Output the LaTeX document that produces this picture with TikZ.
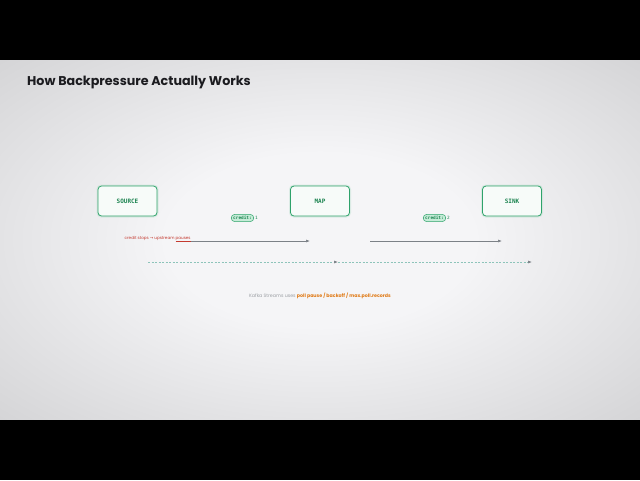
\documentclass[tikz,border=0pt]{standalone}
\usepackage{fontspec}
\setmainfont{Poppins}
\setmonofont{DejaVu Sans Mono}
\newfontfamily\arrowfont{DejaVu Sans}
\usetikzlibrary{positioning,arrows.meta}
\definecolor{bgin}{HTML}{F5F5F7}
\definecolor{bgout}{HTML}{BEBEC0}
\definecolor{mint}{HTML}{2FA36B}
\definecolor{mintdark}{HTML}{1E8552}
\definecolor{mintfill}{HTML}{C6ECD8}
\definecolor{stopred}{HTML}{C43A30}
\definecolor{pollorange}{HTML}{E07A16}
\definecolor{flowgray}{HTML}{7C8187}
\definecolor{dashteal}{HTML}{8DC4BA}
\definecolor{titleink}{HTML}{1B1B1F}
\pgfdeclareradialshading{bgglow}{\pgfpoint{0bp}{0bp}}{color(0bp)=(bgin); color(12bp)=(bgin); color(52bp)=(bgout); color(72bp)=(bgout)}

\begin{document}
\begin{tikzpicture}[x=1pt,y=-1pt,
  stage/.style={draw=mint,line width=0.8pt,fill=white!96!mint,rounded corners=3.5pt,minimum width=59pt,minimum height=30pt,inner sep=0pt,
    preaction={draw=mint!45,line width=3pt,opacity=0.3},font=\ttfamily\bfseries\fontsize{6}{7}\selectfont,text=mintdark},
  creditpill/.style={draw=mint,line width=0.5pt,fill=mintfill,rounded corners=3.5pt,inner xsep=2pt,inner ysep=1.8pt,
    font=\ttfamily\bfseries\fontsize{4.4}{5}\selectfont,text=mintdark},
  flow/.style={draw=flowgray,line width=0.6pt,-{Latex[length=4pt,width=3pt]}},
  ackflow/.style={draw=dashteal,line width=0.6pt,dash pattern=on 2pt off 1.5pt,-{Latex[length=4pt,width=3pt,color=flowgray]}}]
\useasboundingbox (0,0) rectangle (640,480);
\shade[shading=bgglow] (0,60) rectangle (640,420);
\fill[black] (0,0) rectangle (640,60);
\fill[black] (0,420) rectangle (640,480);
\node[anchor=west,inner sep=0pt,font=\bfseries\fontsize{12.7}{14}\selectfont,text=titleink] (title) at (27,82.5) {How Backpressure Actually Works};
\node[stage] (source) at (127.5,201) {SOURCE};
\node[stage] (map) at (320,201) {MAP};
\node[stage] (sink) at (512,201) {SINK};
\node[creditpill] (credit1) at (242.5,218) {credit:};
\node[right=0.8pt of credit1,inner sep=0pt,font=\ttfamily\fontsize{4.4}{5}\selectfont,text=mintdark] (credit1val) {1};
\node[creditpill] (credit2) at (434.5,218) {credit:};
\node[right=0.8pt of credit2,inner sep=0pt,font=\ttfamily\fontsize{4.4}{5}\selectfont,text=mintdark] (credit2val) {2};
\node[anchor=west,inner sep=0pt,text=stopred,font=\fontsize{4.1}{5}\selectfont] (stopnote) at (124.5,239) {credit stops {\arrowfont →} upstream \underline{pauses}};
\coordinate (stopend) at (190.5,241);
\coordinate (mapin) at (310,241);
\coordinate (mapout) at (370,241);
\coordinate (sinkin) at (502,241);
\draw[flow] (stopend) -- (mapin);
\draw[flow] (mapout) -- (sinkin);
\coordinate (ackstart) at (148,262);
\coordinate (ackmid) at (338,262);
\coordinate (ackend) at (532,262);
\draw[ackflow] (ackstart) -- (ackmid);
\draw[ackflow] (ackmid) -- (ackend);
\node[font=\fontsize{4.75}{6}\selectfont,text=flowgray!75] (kafkanote) at (320,295.5) {Kafka Streams uses \textcolor{pollorange}{\bfseries poll pause / backoff / max.poll.records}};
\end{tikzpicture}
\end{document}
